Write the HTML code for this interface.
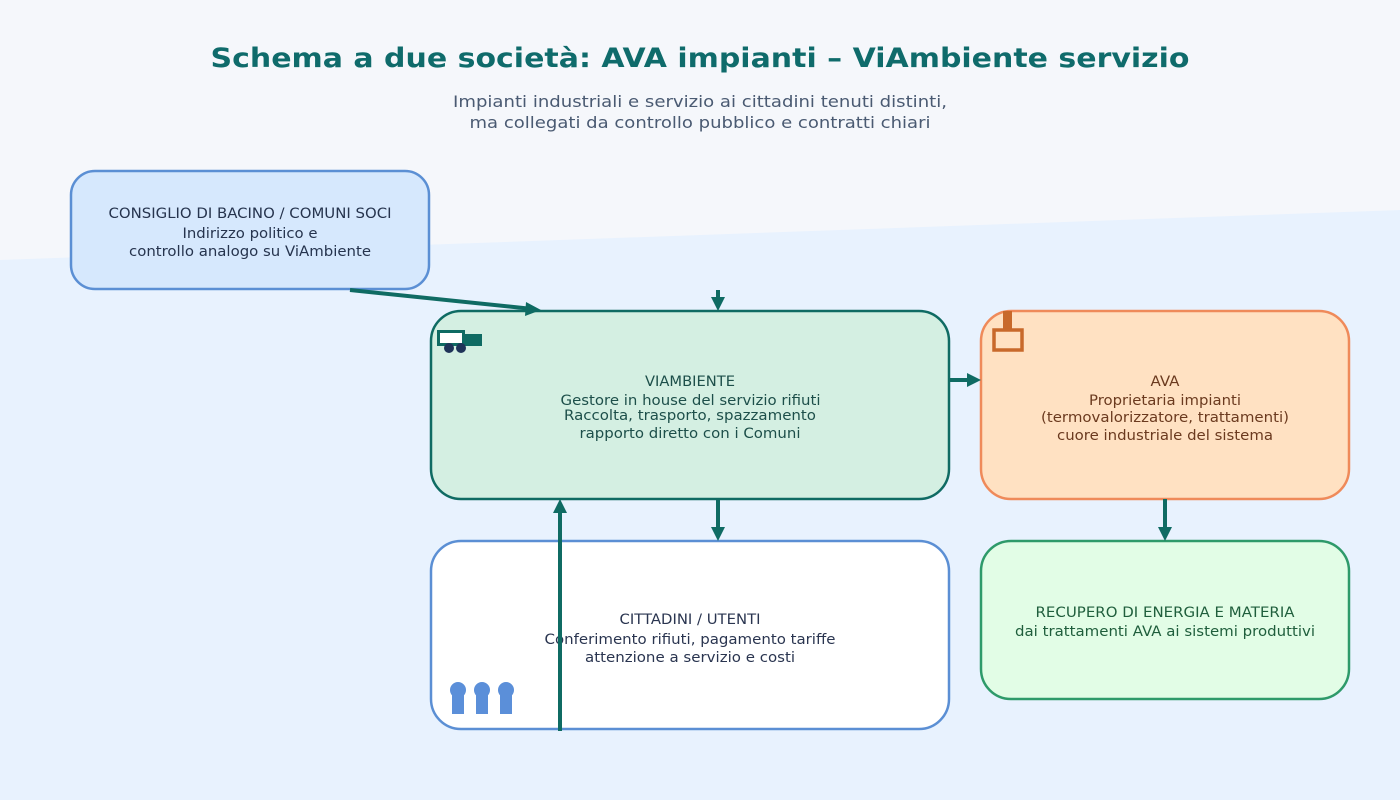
<!DOCTYPE html>
<html><head><meta charset="utf-8"><style>
html,body{margin:0;padding:0;width:1400px;height:800px;overflow:hidden;background:#f5f7fb}
svg{display:block}
text{font-family:"DejaVu Sans","Liberation Sans",sans-serif}
</style></head><body>
<svg width="1400" height="800" viewBox="0 0 1400 800" xmlns="http://www.w3.org/2000/svg">
<rect x="0" y="0" width="1400" height="800" fill="#f5f7fb"/>
<polygon points="0,260 1400,210 1400,800 0,800" fill="#e8f2fe"/>

<text x="700" y="67" text-anchor="middle" font-size="27" font-weight="bold" fill="#0f6b6b" textLength="979" lengthAdjust="spacingAndGlyphs">Schema a due società: AVA impianti – ViAmbiente servizio</text>
<text x="700" y="107" text-anchor="middle" font-size="16" fill="#4a5a72" textLength="494" lengthAdjust="spacingAndGlyphs">Impianti industriali e servizio ai cittadini tenuti distinti,</text>
<text x="700" y="128" text-anchor="middle" font-size="16" fill="#4a5a72" textLength="461" lengthAdjust="spacingAndGlyphs">ma collegati da controllo pubblico e contratti chiari</text>

<!-- Consiglio -->
<rect x="71" y="171" width="358" height="118" rx="24" fill="#d6e8fd" stroke="#5b8fd4" stroke-width="2.5"/>
<text x="250" y="218" text-anchor="middle" font-size="14" fill="#26344e" textLength="283" lengthAdjust="spacingAndGlyphs">CONSIGLIO DI BACINO / COMUNI SOCI</text>
<text x="250" y="238" text-anchor="middle" font-size="14" fill="#26344e" textLength="135" lengthAdjust="spacingAndGlyphs">Indirizzo politico e</text>
<text x="250" y="256" text-anchor="middle" font-size="14" fill="#26344e" textLength="242" lengthAdjust="spacingAndGlyphs">controllo analogo su ViAmbiente</text>

<!-- ViAmbiente -->
<rect x="431" y="311" width="518" height="188" rx="30" fill="#d4efe2" stroke="#0f6b63" stroke-width="2.5"/>
<text x="690" y="386" text-anchor="middle" font-size="14" fill="#1d4f4a" textLength="90" lengthAdjust="spacingAndGlyphs">VIAMBIENTE</text>
<text x="690.5" y="405" text-anchor="middle" font-size="14" fill="#1d4f4a" textLength="260" lengthAdjust="spacingAndGlyphs">Gestore in house del servizio rifiuti</text>
<text x="690" y="420" text-anchor="middle" font-size="14" fill="#1d4f4a" textLength="252" lengthAdjust="spacingAndGlyphs">Raccolta, trasporto, spazzamento</text>
<text x="690" y="438" text-anchor="middle" font-size="14" fill="#1d4f4a" textLength="221" lengthAdjust="spacingAndGlyphs">rapporto diretto con i Comuni</text>
<!-- truck -->
<rect x="438.5" y="331.5" width="25" height="13" fill="#ffffff" stroke="#0f6b63" stroke-width="3"/>
<rect x="463" y="334" width="19" height="12" fill="#0f6b63"/>
<circle cx="449" cy="348" r="5" fill="#1f3358"/>
<circle cx="461" cy="348" r="5" fill="#1f3358"/>

<!-- AVA -->
<rect x="981" y="311" width="368" height="188" rx="30" fill="#ffe1c2" stroke="#ef8a5a" stroke-width="2.5"/>
<text x="1165" y="386" text-anchor="middle" font-size="14" fill="#6b3a1f" textLength="29" lengthAdjust="spacingAndGlyphs">AVA</text>
<text x="1165" y="405" text-anchor="middle" font-size="14" fill="#6b3a1f" textLength="152" lengthAdjust="spacingAndGlyphs">Proprietaria impianti</text>
<text x="1165" y="422" text-anchor="middle" font-size="14" fill="#6b3a1f" textLength="248" lengthAdjust="spacingAndGlyphs">(termovalorizzatore, trattamenti)</text>
<text x="1165" y="440" text-anchor="middle" font-size="14" fill="#6b3a1f" textLength="216" lengthAdjust="spacingAndGlyphs">cuore industriale del sistema</text>
<!-- factory -->
<rect x="1003" y="311" width="9" height="19" fill="#c8692b"/>
<rect x="994" y="330" width="28" height="20" fill="none" stroke="#c8692b" stroke-width="3.5"/>

<!-- Cittadini -->
<rect x="431" y="541" width="518" height="188" rx="30" fill="#ffffff" stroke="#5b8fd4" stroke-width="2.5"/>
<text x="690" y="624" text-anchor="middle" font-size="14" fill="#2a3550" textLength="141" lengthAdjust="spacingAndGlyphs">CITTADINI / UTENTI</text>
<text x="690" y="644" text-anchor="middle" font-size="14" fill="#2a3550" textLength="291" lengthAdjust="spacingAndGlyphs">Conferimento rifiuti, pagamento tariffe</text>
<text x="690" y="662" text-anchor="middle" font-size="14" fill="#2a3550" textLength="210" lengthAdjust="spacingAndGlyphs">attenzione a servizio e costi</text>
<!-- people -->
<g fill="#5b8fd9">
<circle cx="458" cy="690" r="8"/><rect x="452" y="695" width="12" height="19"/>
<circle cx="482" cy="690" r="8"/><rect x="476" y="695" width="12" height="19"/>
<circle cx="506" cy="690" r="8"/><rect x="500" y="695" width="12" height="19"/>
</g>

<!-- Recupero -->
<rect x="981" y="541" width="368" height="158" rx="30" fill="#e2fde6" stroke="#2e9a6a" stroke-width="2.5"/>
<text x="1165" y="617" text-anchor="middle" font-size="14" fill="#1f5e3c" textLength="259" lengthAdjust="spacingAndGlyphs">RECUPERO DI ENERGIA E MATERIA</text>
<text x="1165" y="636" text-anchor="middle" font-size="14" fill="#1f5e3c" textLength="300" lengthAdjust="spacingAndGlyphs">dai trattamenti AVA ai sistemi produttivi</text>

<!-- connectors -->
<g stroke="#0f6b63" stroke-width="4" fill="none">
<line x1="350" y1="290" x2="528" y2="308.5"/>
<line x1="718" y1="290" x2="718" y2="299"/>
<line x1="949" y1="380" x2="968" y2="380"/>
<line x1="718" y1="499" x2="718" y2="528"/>
<line x1="560" y1="731" x2="560" y2="512"/>
<line x1="1165" y1="499" x2="1165" y2="528"/>
</g>
<g fill="#0f6b63">
<polygon points="541,310 526,302 525,316"/>
<polygon points="718,311 711,297 725,297"/>
<polygon points="981,380 967,373 967,387"/>
<polygon points="718,541 711,527 725,527"/>
<polygon points="560,499 553,513 567,513"/>
<polygon points="1165,541 1158,527 1172,527"/>
</g>
</svg>
</body></html>
